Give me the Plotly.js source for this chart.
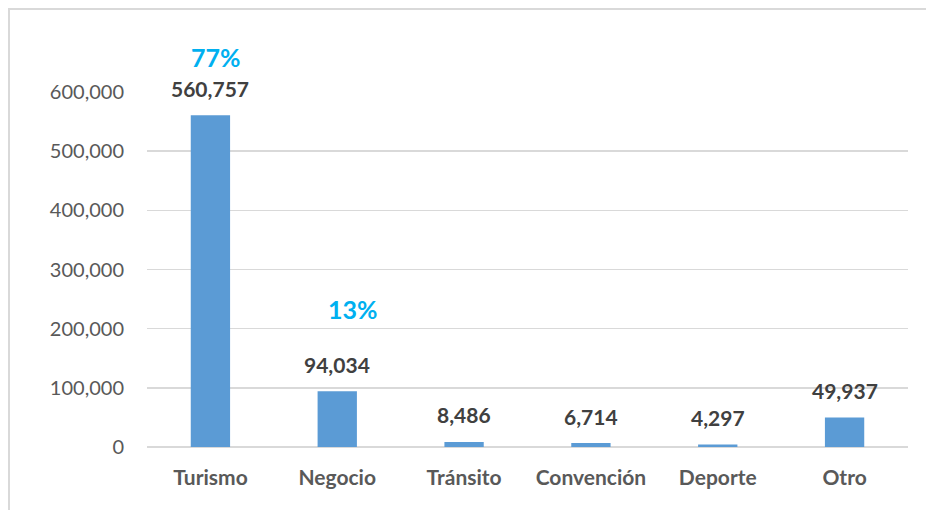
<!DOCTYPE html>
<html>
<head>
<meta charset="utf-8">
<script src="https://cdn.plot.ly/plotly-3.0.1.min.js"></script>
<style>
  body { margin: 0; background: #fff; }
  #chart { width: 926px; height: 510px; }
</style>
</head>
<body>
<div id="chart"></div>
<script>
// motivo de viaje
let categories = ["Turismo", "Negocio", "Tránsito", "Convención", "Deporte", "Otro"];
let visitors = [560757, 94034, 8486, 6714, 4297, 49937];
let valueLabels = ["560,757", "94,034", "8,486", "6,714", "4,297", "49,937"];

// porcentajes destacados
let pctCategories = ["Turismo", "Negocio"];
let pctLabels = ["77%", "13%"];
let pctY = [659000, 233000];

let yMax = 600000;
let fontFam = "Lato, 'Open Sans', sans-serif";

let trace = {
    x: categories,
    y: visitors,
    type: "bar",
    marker: { color: "#5B9BD5" },
    hoverinfo: "x+y"
};

let annotations = [];
for (let i = 0; i < categories.length; i++) {
    annotations.push({
        x: categories[i],
        y: visitors[i],
        text: valueLabels[i],
        showarrow: false,
        yanchor: "middle",
        yshift: 27,
        font: { family: fontFam, size: 21, color: "#404040", weight: "bold" }
    });
}
// 77% queda por encima del rango del eje, asi que va en coordenadas paper
for (let i = 0; i < pctLabels.length; i++) {
    annotations.push({
        x: pctCategories[i],
        yref: "paper",
        y: pctY[i] / yMax,
        text: pctLabels[i],
        showarrow: false,
        yanchor: "middle",
        xshift: i == 0 ? 6 : 16,
        font: { family: fontFam, size: 25, color: "#00B0F0", weight: "bold" }
    });
}

let layout = {
    width: 926,
    height: 510,
    showlegend: false,
    bargap: 0.69,
    paper_bgcolor: "#fff",
    plot_bgcolor: "#fff",
    margin: { l: 147, r: 18, t: 92, b: 63 },
    xaxis: {
        showgrid: false,
        showline: false,
        ticks: "",
        ticklabelstandoff: 16,
        tickfont: { family: fontFam, size: 21, color: "#595959", weight: "bold" }
    },
    yaxis: {
        range: [0, yMax],
        dtick: 100000,
        tickformat: ",d",
        showgrid: true,
        gridcolor: "#D9D9D9",
        gridwidth: 1.5,
        zeroline: true,
        zerolinecolor: "#D9D9D9",
        zerolinewidth: 1.5,
        ticks: "",
        ticklabelstandoff: 22,
        tickfont: { family: fontFam, size: 20, color: "#595959" }
    },
    annotations: annotations,
    shapes: [{
        type: "rect",
        xref: "paper", yref: "paper",
        x0: -138 / 761, x1: 1.05,
        y0: -0.3, y1: 1 + 83 / 355,
        line: { color: "#D9D9D9", width: 2 }
    }]
};

Plotly.newPlot("chart", [trace], layout, { displayModeBar: false, staticPlot: true });
</script>
</body>
</html>
